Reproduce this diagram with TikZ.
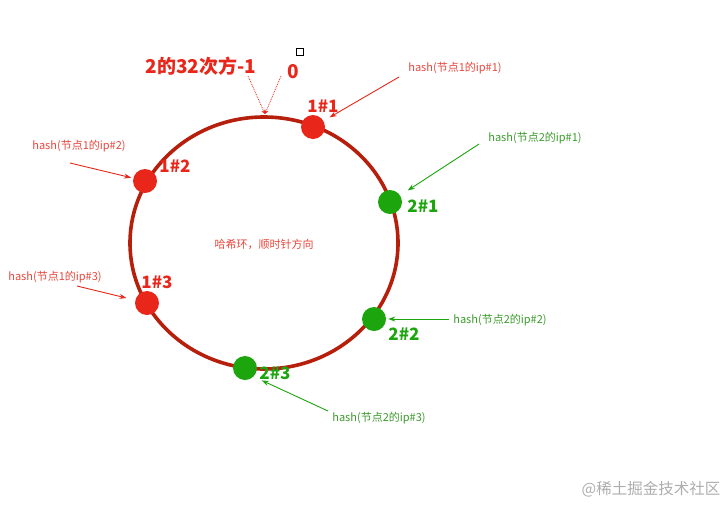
\documentclass[tikz,border=0pt]{standalone}
\usepackage{fontspec}
\setmainfont{Noto Sans CJK SC}
\usepackage{tikz}
\usetikzlibrary{arrows.meta}
\definecolor{ringred}{HTML}{B61F0C}
\definecolor{dotred}{HTML}{E8261A}
\definecolor{txtred}{HTML}{E8463C}
\definecolor{dotgreen}{HTML}{1CA50C}
\definecolor{txtgreen}{HTML}{3C9A2C}

\begin{document}
\begin{tikzpicture}[
    x=1pt, y=-1pt,
    ring/.style={draw=ringred, line width=3.6pt},
    rdot/.style={circle, fill=dotred, minimum size=24pt, inner sep=0pt},
    gdot/.style={circle, fill=dotgreen, minimum size=24pt, inner sep=0pt},
    rlab/.style={font=\fontsize{17}{17}\selectfont\bfseries, text=dotred, inner sep=0pt},
    glab/.style={rlab, text=dotgreen},
    rhash/.style={font=\fontsize{11}{11}\selectfont, text=txtred, inner sep=0pt},
    ghash/.style={rhash, text=txtgreen},
    rarr/.style={-{Stealth[length=7pt, width=5pt]}, draw=dotred, line width=0.9pt},
    garr/.style={rarr, draw=dotgreen},
    dotarr/.style={-{Stealth[length=4pt, width=4pt]}, draw=dotred, densely dotted, line width=0.8pt}
]
\useasboundingbox (0,0) rectangle (728,504);

% the ring
\draw[ring] (264,243) ellipse [x radius=134, y radius=126];
\node[font=\fontsize{11}{11}\selectfont, text=txtred] (title) at (264,244) {哈希环，顺时针方向};

% 0 and 2^32-1
\node[font=\fontsize{19}{19}\selectfont\bfseries, text=dotred, inner sep=0pt] (max) at (201,66) {2的32次方-1};
\node[font=\fontsize{19}{19}\selectfont\bfseries, text=dotred, inner sep=0pt] (zero) at (293,72) {0};
\node[draw=black, line width=0.8pt, minimum size=7pt, inner sep=0pt] (sq) at (300,52) {};
\coordinate (top) at (265,114);
\coordinate (tmax) at (248,76);
\coordinate (tzero) at (281,76);
\draw[dotarr] (tmax) -- (top);
\draw[dotarr] (tzero) -- (top);

% nodes of server 1
\node[rdot] (n11) at (313,127) {};
\node[rdot] (n12) at (145,181) {};
\node[rdot] (n13) at (147,303) {};
\node[rlab] (l11) at (323,106) {1\#1};
\node[rlab] (l12) at (175,166) {1\#2};
\node[rlab] (l13) at (157,282) {1\#3};

% nodes of server 2
\node[gdot] (n21) at (390,202) {};
\node[gdot] (n22) at (374,319) {};
\node[gdot] (n23) at (245,368) {};
\node[glab] (l21) at (423,206) {2\#1};
\node[glab] (l22) at (404,334) {2\#2};
\node[glab] (l23) at (275,373) {2\#3};

% hash labels
\node[rhash] (h11) at (455,68) {hash(节点1的ip\#1)};
\node[rhash] (h12) at (79,146) {hash(节点1的ip\#2)};
\node[rhash] (h13) at (55,277) {hash(节点1的ip\#3)};
\node[ghash] (h21) at (535,138) {hash(节点2的ip\#1)};
\node[ghash] (h22) at (500,320) {hash(节点2的ip\#2)};
\node[ghash] (h23) at (379,418) {hash(节点2的ip\#3)};

\coordinate (t11) at (399,77);
\coordinate (t12) at (70,163);
\coordinate (t13) at (77,286);
\coordinate (t21) at (479,144);
\coordinate (t22) at (449,319);
\coordinate (t23) at (328,411);
\draw[rarr, shorten >=7pt] (t11) -- (n11);
\draw[rarr, shorten >=2pt] (t12) -- (n12);
\draw[rarr, shorten >=9pt] (t13) -- (n13);
\draw[garr, shorten >=9pt] (t21) -- (n21);
\draw[garr, shorten >=2pt] (t22) -- (n22);
\draw[garr, shorten >=9pt] (t23) -- (n23.south east);

\node[font=\fontsize{15.5}{16}\selectfont, text=black!32] (mark) at (651,489) {@稀土掘金技术社区};
\end{tikzpicture}
\end{document}
